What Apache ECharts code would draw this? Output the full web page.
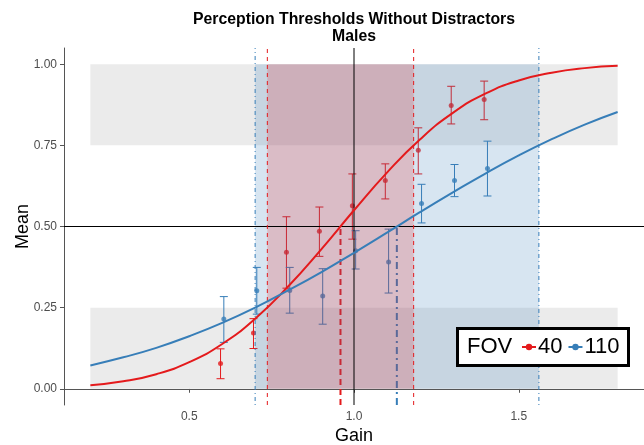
<!DOCTYPE html>
<html><head><meta charset="utf-8">
<script src="https://cdn.jsdelivr.net/npm/echarts@6/dist/echarts.min.js"></script>
<style>html,body{margin:0;padding:0;background:#fff}#c{width:644px;height:445px}</style>
</head><body><div id="c"></div>
<script>
// ---- data ----
const gains = [0.6, 0.7, 0.8, 0.9, 1.0, 1.1, 1.2, 1.3, 1.4];
const mean40 = [0.078, 0.172, 0.421, 0.485, 0.564, 0.642, 0.735, 0.873, 0.891];
const lo40   = [0.031, 0.124, 0.310, 0.408, 0.461, 0.585, 0.662, 0.816, 0.829];
const hi40   = [0.123, 0.216, 0.530, 0.560, 0.662, 0.693, 0.804, 0.932, 0.948];
const mean110 = [0.215, 0.302, 0.303, 0.286, 0.425, 0.391, 0.571, 0.642, 0.679];
const lo110   = [0.143, 0.230, 0.233, 0.199, 0.369, 0.295, 0.511, 0.592, 0.594];
const hi110   = [0.284, 0.374, 0.374, 0.370, 0.487, 0.492, 0.630, 0.691, 0.763];
const curveX = [0.2, 0.3, 0.4, 0.5, 0.6, 0.7, 0.8, 0.9, 1.0, 1.1, 1.2, 1.3, 1.4, 1.5, 1.6, 1.7, 1.8];
const fit40  = [0.011, 0.023, 0.045, 0.082, 0.138, 0.216, 0.315, 0.429, 0.550, 0.666, 0.768, 0.850, 0.910, 0.950, 0.974, 0.988, 0.995];
const fit110 = [0.072, 0.097, 0.126, 0.162, 0.203, 0.250, 0.303, 0.359, 0.419, 0.481, 0.544, 0.605, 0.664, 0.719, 0.769, 0.814, 0.853];
const thr40  = [0.737, 0.959, 1.181];   // 25%, 50%, 75% gain thresholds, FOV 40
const thr110 = [0.700, 1.130, 1.561];   // 25%, 50%, 75% gain thresholds, FOV 110
const bandX = [0.2, 1.8];
const grayBands = [[0, 0.25], [0.75, 1]];
const xTicks = [0.5, 1.0, 1.5];
const yTicks = [0, 0.25, 0.5, 0.75, 1];
const xLim = [0.12, 1.88];
const yLim = [-0.05, 1.05];

const RED = '#E41A1C', BLUE = '#377EB8';
const FONT = 'Liberation Sans, Arial, sans-serif';
const DODGE = 0.005;

function rectSeries(rects, fill, z) {
  return {
    type: 'custom', z: z, silent: true, clip: false,
    data: rects,
    renderItem: function (params, api) {
      const p0 = api.coord([api.value(0), api.value(3)]);
      const p1 = api.coord([api.value(1), api.value(2)]);
      return { type: 'rect', shape: { x: p0[0], y: p0[1], width: p1[0] - p0[0], height: p1[1] - p0[1] }, style: { fill: fill } };
    }
  };
}
// segments: [x0,y0,x1,y1]
function segSeries(segs, color, width, dash, z) {
  return {
    type: 'custom', z: z, silent: true, clip: false,
    data: segs,
    renderItem: function (params, api) {
      const a = api.coord([api.value(0), api.value(1)]);
      const b = api.coord([api.value(2), api.value(3)]);
      return { type: 'line', shape: { x1: a[0], y1: a[1], x2: b[0], y2: b[1] },
        style: { stroke: color, lineWidth: width, lineDash: dash || null } };
    }
  };
}
function errSeries(xs, lo, hi, color, z) {
  return {
    type: 'custom', z: z, silent: true,
    data: xs.map((x, i) => [x, lo[i], hi[i]]),
    renderItem: function (params, api) {
      const x = api.value(0);
      const a = api.coord([x, api.value(1)]);
      const b = api.coord([x, api.value(2)]);
      const w = 4;
      const st = { stroke: color, lineWidth: 1 };
      return { type: 'group', children: [
        { type: 'line', shape: { x1: a[0], y1: a[1], x2: b[0], y2: b[1] }, style: st },
        { type: 'line', shape: { x1: a[0] - w, y1: a[1], x2: a[0] + w, y2: a[1] }, style: st },
        { type: 'line', shape: { x1: b[0] - w, y1: b[1], x2: b[0] + w, y2: b[1] }, style: st }
      ] };
    }
  };
}

const x40 = gains.map(g => g - DODGE);
const x110 = gains.map(g => g + DODGE);

const series = [
  rectSeries(grayBands.map(b => [bandX[0], bandX[1], b[0], b[1]]), '#ebebeb', 1),
  segSeries([[thr40[1], yLim[0], thr40[1], 0.5]], RED, 2, [6, 4], 2),
  segSeries([[thr110[1], yLim[0], thr110[1], 0.5]], BLUE, 2, [7, 4, 2, 4], 2),
  errSeries(x40, lo40, hi40, RED, 3),
  errSeries(x110, lo110, hi110, BLUE, 3),
  { type: 'scatter', z: 4, silent: true, symbolSize: 5, itemStyle: { color: RED },
    data: x40.map((x, i) => [x, mean40[i]]) },
  { type: 'scatter', z: 4, silent: true, symbolSize: 5, itemStyle: { color: BLUE },
    data: x110.map((x, i) => [x, mean110[i]]) },
  rectSeries([[thr110[0], thr110[2], 0, 1]], 'rgba(55,126,184,0.2)', 5),
  rectSeries([[thr40[0], thr40[2], 0, 1]], 'rgba(228,26,28,0.2)', 6),
  segSeries([[1, yLim[0], 1, yLim[1]], [xLim[0], 0.5, xLim[1], 0.5]], '#000', 1, null, 7),
  segSeries([[thr40[0], yLim[0], thr40[0], yLim[1]], [thr40[2], yLim[0], thr40[2], yLim[1]]], RED, 1, [4, 4], 8),
  segSeries([[thr110[0], yLim[0], thr110[0], yLim[1]], [thr110[2], yLim[0], thr110[2], yLim[1]]], BLUE, 1, [1, 3, 4, 3], 8),
  { name: '40', type: 'line', z: 9, silent: true, smooth: true, symbol: 'circle', symbolSize: 5, showSymbol: false,
    lineStyle: { color: RED, width: 2 }, itemStyle: { color: RED },
    data: curveX.map((x, i) => [x, fit40[i]]) },
  { name: '110', type: 'line', z: 9, silent: true, smooth: true, symbol: 'circle', symbolSize: 5, showSymbol: false,
    lineStyle: { color: BLUE, width: 2 }, itemStyle: { color: BLUE },
    data: curveX.map((x, i) => [x, fit110[i]]) }
];

const chart = echarts.init(document.getElementById('c'), null, { renderer: 'canvas' });
chart.setOption({
  animation: false,
  backgroundColor: '#fff',
  grid: { left: 64, right: 0, top: 48, bottom: 40, containLabel: false, outerBoundsMode: 'none' },
  xAxis: {
    type: 'value', min: xLim[0], max: xLim[1],
    name: 'Gain', nameLocation: 'middle', nameGap: 22, nameMoveOverlap: false,
    nameTextStyle: { fontFamily: FONT, fontSize: 18, color: '#000', verticalAlign: 'top' },
    axisLine: { lineStyle: { color: '#555', width: 1 } },
    axisTick: { customValues: xTicks, length: 4, lineStyle: { color: '#555' } },
    axisLabel: { customValues: xTicks, color: '#4d4d4d', fontFamily: FONT, fontSize: 12, margin: 6,
      formatter: v => v.toFixed(1) },
    splitLine: { show: false }
  },
  yAxis: {
    type: 'value', min: yLim[0], max: yLim[1],
    name: 'Mean', nameLocation: 'middle', nameGap: 32, nameMoveOverlap: false,
    nameTextStyle: { fontFamily: FONT, fontSize: 18, color: '#000' },
    axisLine: { lineStyle: { color: '#555', width: 1 } },
    axisTick: { customValues: yTicks, length: 4, lineStyle: { color: '#555' } },
    axisLabel: { customValues: yTicks, color: '#4d4d4d', fontFamily: FONT, fontSize: 12, margin: 7,
      formatter: v => v.toFixed(2) },
    splitLine: { show: false }
  },
  legend: {
    data: ['40', '110'], left: 521, top: 336, z: 20, padding: 0,
    itemWidth: 14, itemHeight: 8, itemGap: 5,
    textStyle: { fontFamily: FONT, fontSize: 22, color: '#000', padding: [0, 0, 0, -3] },
    selectedMode: false
  },
  graphic: [
    { type: 'text', x: 354, y: 20, z: 20, style: { text: 'Perception Thresholds Without Distractors', fill: '#000',
      font: 'bold 15.8px ' + FONT, textAlign: 'center', textVerticalAlign: 'middle' } },
    { type: 'text', x: 354, y: 37, z: 20, style: { text: 'Males', fill: '#000',
      font: 'bold 15.8px ' + FONT, textAlign: 'center', textVerticalAlign: 'middle' } },
    { type: 'rect', z: 15, shape: { x: 457.5, y: 328.5, width: 171, height: 37 },
      style: { fill: '#fff', stroke: '#000', lineWidth: 3 } },
    { type: 'text', x: 467, y: 347, z: 20, style: { text: 'FOV', fill: '#000',
      font: '22px ' + FONT, textAlign: 'left', textVerticalAlign: 'middle' } }
  ],
  series: series
});
</script>
</body></html>
